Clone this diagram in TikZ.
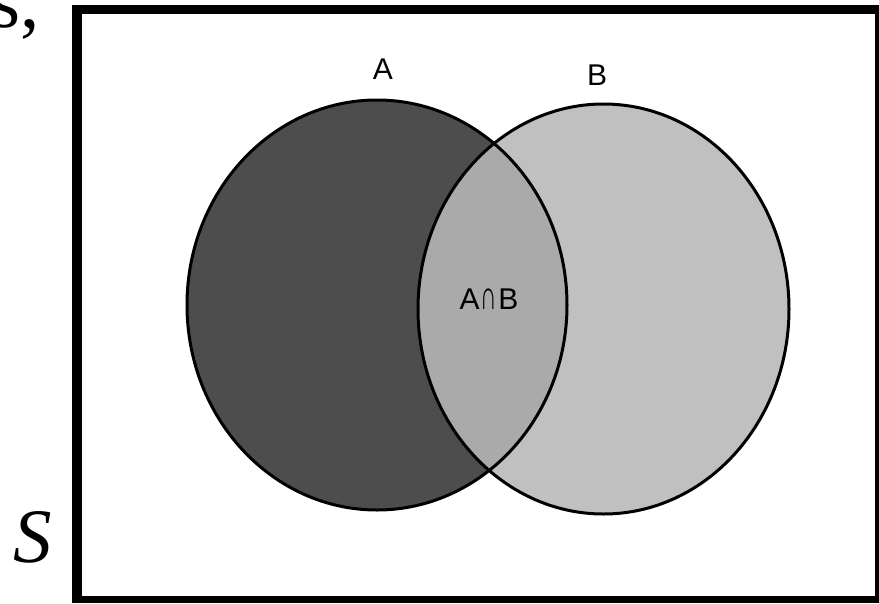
\documentclass[tikz,border=0pt]{standalone}
\usepackage{graphicx}
\usepackage{fontspec}
\setmainfont{Liberation Serif}
\newfontfamily\labfont{Liberation Sans}
\definecolor{adark}{RGB}{77,77,77}
\definecolor{blight}{RGB}{192,192,192}
\definecolor{abmid}{RGB}{170,170,170}
\newcommand{\tallcap}{\resizebox{0.55em}{\fontcharht\font`B}{∩}}
\tikzset{
  outline/.style={draw=black, line width=3pt},
  setlabel/.style={inner sep=0pt, font=\labfont\fontsize{30}{30}\selectfont},
  bigtext/.style={inner sep=0pt, font=\fontsize{77}{77}\selectfont}
}
\begin{document}
\begin{tikzpicture}[x=1pt,y=-1pt]
\useasboundingbox (0,0) rectangle (879,603);
\clip (0,0) rectangle (879,603);
\fill[white] (0,0) rectangle (879,603);
% frame
\fill[black] (72,5) rectangle (879,603);
\fill[white] (82,14) rectangle (875,596);
% sets
\coordinate (ca) at (377,305);
\coordinate (cb) at (603.5,309);
\fill[adark] (ca) ellipse [x radius=190pt, y radius=205pt];
\fill[blight] (cb) ellipse [x radius=185.5pt, y radius=205pt];
\begin{scope}
  \clip (ca) ellipse [x radius=190pt, y radius=205pt];
  \fill[abmid] (cb) ellipse [x radius=185.5pt, y radius=205pt];
\end{scope}
\draw[outline] (ca) ellipse [x radius=190pt, y radius=205pt];
\draw[outline] (cb) ellipse [x radius=185.5pt, y radius=205pt];
% labels
\node[setlabel, anchor=base] (la) at (383,79) {A};
\node[setlabel, anchor=base] (lb) at (597,85) {B};
\node[setlabel, anchor=base] (lab) at (489,309) {A\kern1pt\tallcap\kern1pt B};
\node[bigtext, anchor=base, font=\itshape\fontsize{77}{77}\selectfont] (ls) at (33,562) {S};
\node[bigtext, anchor=base west] (lc) at (-10,27) {s,};
\end{tikzpicture}
\end{document}
